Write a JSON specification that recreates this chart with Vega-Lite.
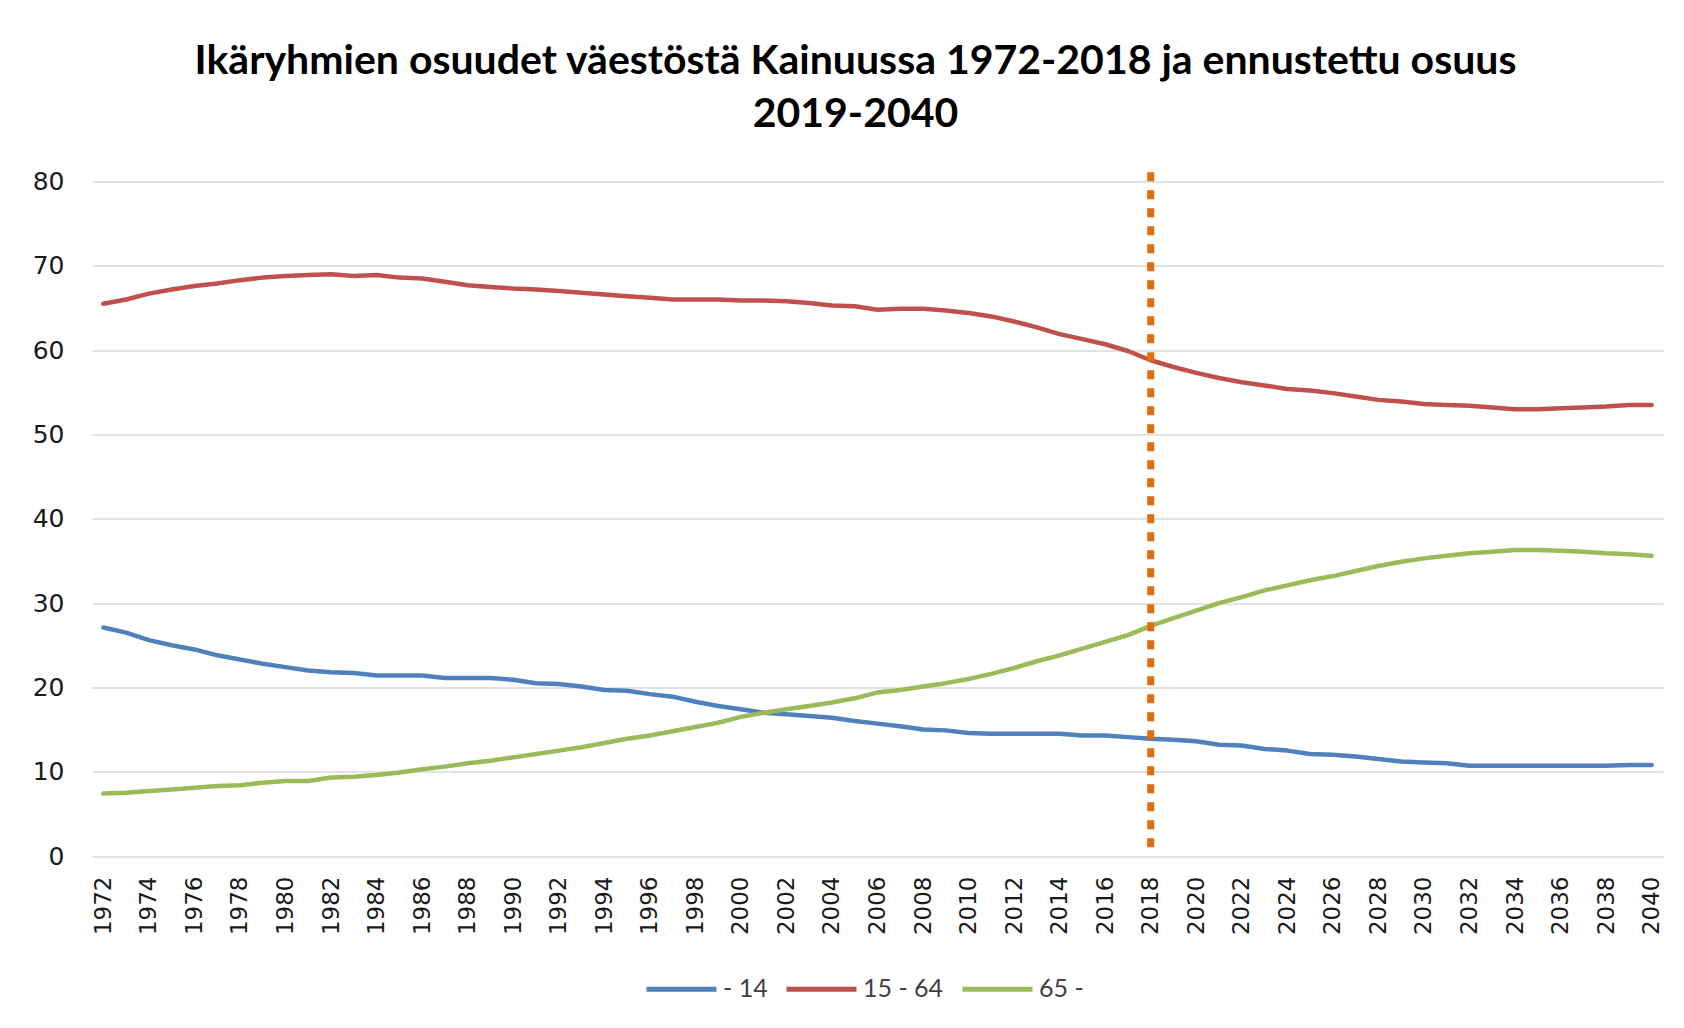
{
  "$schema": "https://vega.github.io/schema/vega-lite/v6.json",
  "width": 1571,
  "height": 674.5,
  "autosize": {"type": "none"},
  "padding": {"left": 92, "top": 181.5, "right": 21, "bottom": 172},
  "background": "white",
  "title": {
    "text": ["Ikäryhmien osuudet väestöstä Kainuussa 1972-2018 ja ennustettu osuus", "2019-2040"],
    "font": "Lato",
    "fontSize": 41,
    "fontWeight": "bold",
    "color": "#000000",
    "lineHeight": 53,
    "anchor": "middle",
    "dx": -22,
    "offset": 33
  },
  "datasets": {
    "series": [
      {"year":1972,"group":"- 14","value":27.1},{"year":1973,"group":"- 14","value":26.5},{"year":1974,"group":"- 14","value":25.6},{"year":1975,"group":"- 14","value":25.0},{"year":1976,"group":"- 14","value":24.5},{"year":1977,"group":"- 14","value":23.8},{"year":1978,"group":"- 14","value":23.3},{"year":1979,"group":"- 14","value":22.8},{"year":1980,"group":"- 14","value":22.4},{"year":1981,"group":"- 14","value":22.0},
      {"year":1982,"group":"- 14","value":21.8},{"year":1983,"group":"- 14","value":21.7},{"year":1984,"group":"- 14","value":21.4},{"year":1985,"group":"- 14","value":21.4},{"year":1986,"group":"- 14","value":21.4},{"year":1987,"group":"- 14","value":21.1},{"year":1988,"group":"- 14","value":21.1},{"year":1989,"group":"- 14","value":21.1},{"year":1990,"group":"- 14","value":20.9},{"year":1991,"group":"- 14","value":20.5},
      {"year":1992,"group":"- 14","value":20.4},{"year":1993,"group":"- 14","value":20.1},{"year":1994,"group":"- 14","value":19.7},{"year":1995,"group":"- 14","value":19.6},{"year":1996,"group":"- 14","value":19.2},{"year":1997,"group":"- 14","value":18.9},{"year":1998,"group":"- 14","value":18.3},{"year":1999,"group":"- 14","value":17.8},{"year":2000,"group":"- 14","value":17.4},{"year":2001,"group":"- 14","value":17.0},
      {"year":2002,"group":"- 14","value":16.8},{"year":2003,"group":"- 14","value":16.6},{"year":2004,"group":"- 14","value":16.4},{"year":2005,"group":"- 14","value":16.0},{"year":2006,"group":"- 14","value":15.7},{"year":2007,"group":"- 14","value":15.4},{"year":2008,"group":"- 14","value":15.0},{"year":2009,"group":"- 14","value":14.9},{"year":2010,"group":"- 14","value":14.6},{"year":2011,"group":"- 14","value":14.5},
      {"year":2012,"group":"- 14","value":14.5},{"year":2013,"group":"- 14","value":14.5},{"year":2014,"group":"- 14","value":14.5},{"year":2015,"group":"- 14","value":14.3},{"year":2016,"group":"- 14","value":14.3},{"year":2017,"group":"- 14","value":14.1},{"year":2018,"group":"- 14","value":13.9},{"year":2019,"group":"- 14","value":13.8},{"year":2020,"group":"- 14","value":13.6},{"year":2021,"group":"- 14","value":13.2},
      {"year":2022,"group":"- 14","value":13.1},{"year":2023,"group":"- 14","value":12.7},{"year":2024,"group":"- 14","value":12.5},{"year":2025,"group":"- 14","value":12.1},{"year":2026,"group":"- 14","value":12.0},{"year":2027,"group":"- 14","value":11.8},{"year":2028,"group":"- 14","value":11.5},{"year":2029,"group":"- 14","value":11.2},{"year":2030,"group":"- 14","value":11.1},{"year":2031,"group":"- 14","value":11.0},
      {"year":2032,"group":"- 14","value":10.7},{"year":2033,"group":"- 14","value":10.7},{"year":2034,"group":"- 14","value":10.7},{"year":2035,"group":"- 14","value":10.7},{"year":2036,"group":"- 14","value":10.7},{"year":2037,"group":"- 14","value":10.7},{"year":2038,"group":"- 14","value":10.7},{"year":2039,"group":"- 14","value":10.8},{"year":2040,"group":"- 14","value":10.8},

      {"year":1972,"group":"15 - 64","value":65.5},{"year":1973,"group":"15 - 64","value":66.0},{"year":1974,"group":"15 - 64","value":66.7},{"year":1975,"group":"15 - 64","value":67.2},{"year":1976,"group":"15 - 64","value":67.6},{"year":1977,"group":"15 - 64","value":67.9},{"year":1978,"group":"15 - 64","value":68.3},{"year":1979,"group":"15 - 64","value":68.6},{"year":1980,"group":"15 - 64","value":68.8},{"year":1981,"group":"15 - 64","value":68.9},
      {"year":1982,"group":"15 - 64","value":69.0},{"year":1983,"group":"15 - 64","value":68.8},{"year":1984,"group":"15 - 64","value":68.9},{"year":1985,"group":"15 - 64","value":68.6},{"year":1986,"group":"15 - 64","value":68.5},{"year":1987,"group":"15 - 64","value":68.1},{"year":1988,"group":"15 - 64","value":67.7},{"year":1989,"group":"15 - 64","value":67.5},{"year":1990,"group":"15 - 64","value":67.3},{"year":1991,"group":"15 - 64","value":67.2},
      {"year":1992,"group":"15 - 64","value":67.0},{"year":1993,"group":"15 - 64","value":66.8},{"year":1994,"group":"15 - 64","value":66.6},{"year":1995,"group":"15 - 64","value":66.4},{"year":1996,"group":"15 - 64","value":66.2},{"year":1997,"group":"15 - 64","value":66.0},{"year":1998,"group":"15 - 64","value":66.0},{"year":1999,"group":"15 - 64","value":66.0},{"year":2000,"group":"15 - 64","value":65.9},{"year":2001,"group":"15 - 64","value":65.9},
      {"year":2002,"group":"15 - 64","value":65.8},{"year":2003,"group":"15 - 64","value":65.6},{"year":2004,"group":"15 - 64","value":65.3},{"year":2005,"group":"15 - 64","value":65.2},{"year":2006,"group":"15 - 64","value":64.8},{"year":2007,"group":"15 - 64","value":64.9},{"year":2008,"group":"15 - 64","value":64.9},{"year":2009,"group":"15 - 64","value":64.7},{"year":2010,"group":"15 - 64","value":64.4},{"year":2011,"group":"15 - 64","value":64.0},
      {"year":2012,"group":"15 - 64","value":63.4},{"year":2013,"group":"15 - 64","value":62.7},{"year":2014,"group":"15 - 64","value":61.9},{"year":2015,"group":"15 - 64","value":61.3},{"year":2016,"group":"15 - 64","value":60.7},{"year":2017,"group":"15 - 64","value":59.9},{"year":2018,"group":"15 - 64","value":58.8},{"year":2019,"group":"15 - 64","value":58.0},{"year":2020,"group":"15 - 64","value":57.3},{"year":2021,"group":"15 - 64","value":56.7},
      {"year":2022,"group":"15 - 64","value":56.2},{"year":2023,"group":"15 - 64","value":55.8},{"year":2024,"group":"15 - 64","value":55.4},{"year":2025,"group":"15 - 64","value":55.2},{"year":2026,"group":"15 - 64","value":54.9},{"year":2027,"group":"15 - 64","value":54.5},{"year":2028,"group":"15 - 64","value":54.1},{"year":2029,"group":"15 - 64","value":53.9},{"year":2030,"group":"15 - 64","value":53.6},{"year":2031,"group":"15 - 64","value":53.5},
      {"year":2032,"group":"15 - 64","value":53.4},{"year":2033,"group":"15 - 64","value":53.2},{"year":2034,"group":"15 - 64","value":53.0},{"year":2035,"group":"15 - 64","value":53.0},{"year":2036,"group":"15 - 64","value":53.1},{"year":2037,"group":"15 - 64","value":53.2},{"year":2038,"group":"15 - 64","value":53.3},{"year":2039,"group":"15 - 64","value":53.5},{"year":2040,"group":"15 - 64","value":53.5},

      {"year":1972,"group":"65 -","value":7.4},{"year":1973,"group":"65 -","value":7.5},{"year":1974,"group":"65 -","value":7.7},{"year":1975,"group":"65 -","value":7.9},{"year":1976,"group":"65 -","value":8.1},{"year":1977,"group":"65 -","value":8.3},{"year":1978,"group":"65 -","value":8.4},{"year":1979,"group":"65 -","value":8.7},{"year":1980,"group":"65 -","value":8.9},{"year":1981,"group":"65 -","value":8.9},
      {"year":1982,"group":"65 -","value":9.3},{"year":1983,"group":"65 -","value":9.4},{"year":1984,"group":"65 -","value":9.6},{"year":1985,"group":"65 -","value":9.9},{"year":1986,"group":"65 -","value":10.3},{"year":1987,"group":"65 -","value":10.6},{"year":1988,"group":"65 -","value":11.0},{"year":1989,"group":"65 -","value":11.3},{"year":1990,"group":"65 -","value":11.7},{"year":1991,"group":"65 -","value":12.1},
      {"year":1992,"group":"65 -","value":12.5},{"year":1993,"group":"65 -","value":12.9},{"year":1994,"group":"65 -","value":13.4},{"year":1995,"group":"65 -","value":13.9},{"year":1996,"group":"65 -","value":14.3},{"year":1997,"group":"65 -","value":14.8},{"year":1998,"group":"65 -","value":15.3},{"year":1999,"group":"65 -","value":15.8},{"year":2000,"group":"65 -","value":16.5},{"year":2001,"group":"65 -","value":17.0},
      {"year":2002,"group":"65 -","value":17.4},{"year":2003,"group":"65 -","value":17.8},{"year":2004,"group":"65 -","value":18.2},{"year":2005,"group":"65 -","value":18.7},{"year":2006,"group":"65 -","value":19.4},{"year":2007,"group":"65 -","value":19.7},{"year":2008,"group":"65 -","value":20.1},{"year":2009,"group":"65 -","value":20.5},{"year":2010,"group":"65 -","value":21.0},{"year":2011,"group":"65 -","value":21.6},
      {"year":2012,"group":"65 -","value":22.3},{"year":2013,"group":"65 -","value":23.1},{"year":2014,"group":"65 -","value":23.8},{"year":2015,"group":"65 -","value":24.6},{"year":2016,"group":"65 -","value":25.4},{"year":2017,"group":"65 -","value":26.2},{"year":2018,"group":"65 -","value":27.3},{"year":2019,"group":"65 -","value":28.2},{"year":2020,"group":"65 -","value":29.1},{"year":2021,"group":"65 -","value":30.0},
      {"year":2022,"group":"65 -","value":30.7},{"year":2023,"group":"65 -","value":31.5},{"year":2024,"group":"65 -","value":32.1},{"year":2025,"group":"65 -","value":32.7},{"year":2026,"group":"65 -","value":33.2},{"year":2027,"group":"65 -","value":33.8},{"year":2028,"group":"65 -","value":34.4},{"year":2029,"group":"65 -","value":34.9},{"year":2030,"group":"65 -","value":35.3},{"year":2031,"group":"65 -","value":35.6},
      {"year":2032,"group":"65 -","value":35.9},{"year":2033,"group":"65 -","value":36.1},{"year":2034,"group":"65 -","value":36.3},{"year":2035,"group":"65 -","value":36.3},{"year":2036,"group":"65 -","value":36.2},{"year":2037,"group":"65 -","value":36.1},{"year":2038,"group":"65 -","value":35.9},{"year":2039,"group":"65 -","value":35.8},{"year":2040,"group":"65 -","value":35.6}
    ],
    "marker": [{"year": 2018, "top": 81.1, "bottom": 0}]
  },
  "layer": [
    {
      "data": {"name": "series"},
      "mark": {"type": "line", "strokeWidth": 4.5, "strokeCap": "round", "strokeJoin": "round"},
      "encoding": {
        "x": {
          "field": "year",
          "type": "ordinal",
          "scale": {"type": "point", "padding": 0.5},
          "axis": {
            "title": null,
            "values": [1972,1974,1976,1978,1980,1982,1984,1986,1988,1990,1992,1994,1996,1998,2000,2002,2004,2006,2008,2010,2012,2014,2016,2018,2020,2022,2024,2026,2028,2030,2032,2034,2036,2038,2040],
            "labelAngle": -90,
            "labelAlign": "right",
            "labelBaseline": "middle",
            "labelPadding": 20,
            "labelFont": "DejaVu Sans",
            "labelFontSize": 23,
            "labelColor": "#1a1a1a",
            "ticks": false,
            "domain": false,
            "grid": false
          }
        },
        "y": {
          "field": "value",
          "type": "quantitative",
          "scale": {"domain": [0, 80], "nice": false},
          "axis": {
            "title": null,
            "values": [0,10,20,30,40,50,60,70,80],
            "labelFont": "DejaVu Sans",
            "labelFontSize": 25,
            "labelColor": "#1a1a1a",
            "labelPadding": 28,
            "ticks": false,
            "domain": false,
            "grid": true,
            "gridColor": "#d9d9d9",
            "gridWidth": 1.3
          }
        },
        "color": {
          "field": "group",
          "type": "nominal",
          "scale": {"domain": ["- 14", "15 - 64", "65 -"], "range": ["#4F81BD", "#C0504D", "#9BBB59"]},
          "legend": {
            "title": null,
            "orient": "none",
            "legendX": 552,
            "legendY": 770,
            "direction": "horizontal",
            "symbolType": "stroke",
            "symbolSize": 4900,
            "symbolStrokeWidth": 5,
            "labelFont": "Lato",
            "labelFontSize": 25,
            "labelColor": "#404040",
            "labelOffset": 4,
            "columnPadding": 8
          }
        }
      }
    },
    {
      "data": {"name": "marker"},
      "mark": {"type": "rule", "color": "#E46C0A", "strokeWidth": 7, "strokeDash": [9, 9]},
      "encoding": {
        "x": {"field": "year", "type": "ordinal"},
        "y": {"field": "top", "type": "quantitative"},
        "y2": {"field": "bottom"}
      }
    }
  ],
  "config": {
    "view": {"stroke": null}
  }
}
